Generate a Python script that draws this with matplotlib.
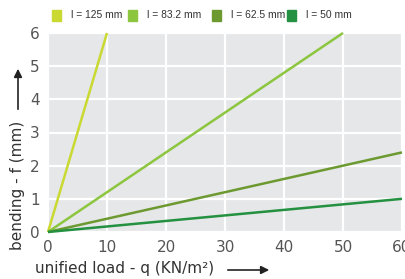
import matplotlib
matplotlib.use("Agg")
import matplotlib.pyplot as plt

labels = ["l = 125 mm", "l = 83.2 mm", "l = 62.5 mm", "l = 50 mm"]
colors = ["#c9d931", "#8cc63f", "#6c9a31", "#23913f"]
x_end = [10, 50, 60, 60]
y_end = [6, 6, 2.4, 1.0]
xticks = [0, 10, 20, 30, 40, 50, 60]
yticks = [0, 1, 2, 3, 4, 5, 6]

W, H = 405, 279
fig = plt.figure(figsize=(W/100, H/100), dpi=100)
ax = fig.add_axes([48/W, 1-232/H, (402-48)/W, (232-33)/H])
ax.set_facecolor("#e6e7e8")
for s in ax.spines.values():
    s.set_visible(False)
ax.set_xlim(0, 60)
ax.set_ylim(0, 6)
ax.set_xticks(xticks)
ax.set_yticks(yticks)
ax.grid(True, color="white", linewidth=1.6)
ax.set_axisbelow(True)
ax.tick_params(length=0, labelsize=11, labelcolor="#555555", pad=6)

for lab, c, xe, ye in zip(labels, colors, x_end, y_end):
    ax.plot([0, xe], [0, ye], color=c, linewidth=1.8, solid_capstyle="butt", clip_on=False)

# legend
leg_x = [52, 128, 212, 287]
for lab, c, lx in zip(labels, colors, leg_x):
    fig.patches.append(matplotlib.patches.Rectangle((lx/W, 1-21/H), 9/W, 11/H,
                       transform=fig.transFigure, color=c))
    fig.text((lx+19)/W, 1-15.5/H, lab, fontsize=7.4, color="#333333", va="center", ha="left",
             family="Liberation Sans")

fig.text(35/W, 1-268/H, "unified load - q (KN/m²)", fontsize=11, color="#333333",
         va="center", ha="left")
fig.add_artist(matplotlib.patches.FancyArrowPatch((225/W, 1-270/H), (272/W, 1-270/H),
               transform=fig.transFigure, arrowstyle="-|>", mutation_scale=12, color="#222222", lw=1.2))
fig.text(18/W, 1-185/H, "bending - f (mm)", fontsize=11, color="#333333", rotation=90,
         va="center", ha="center")
fig.add_artist(matplotlib.patches.FancyArrowPatch((18/W, 1-112/H), (18/W, 1-66/H),
               transform=fig.transFigure, arrowstyle="-|>", mutation_scale=12, color="#222222", lw=1.2))

fig.savefig("out.png", dpi=100)
